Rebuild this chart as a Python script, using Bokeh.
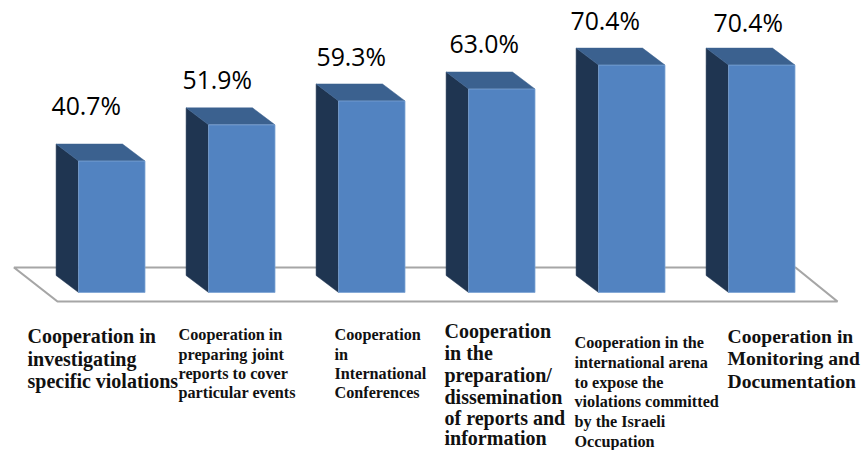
from bokeh.plotting import figure
from bokeh.embed import file_html
from bokeh.resources import INLINE
from bokeh.core.properties import value

# ---- data
categories = ["Investigating violations", "Joint reports", "International conferences",
              "Reports and information", "International arena", "Monitoring and documentation"]
values = [40.7, 51.9, 59.3, 63.0, 70.4, 70.4]

labels = [
    ["Cooperation in", "investigating", "specific violations"],
    ["Cooperation in", "preparing joint", "reports to cover", "particular events"],
    ["Cooperation", "in", "International", "Conferences"],
    ["Cooperation", "in the", "preparation/", "dissemination", "of reports and", "information"],
    ["Cooperation in the", "international arena", "to expose the", "violations committed", "by the Israeli", "Occupation"],
    ["Cooperation in", "Monitoring and", "Documentation"],
]

# ---- layout (pixels on the 862x450 page)
W, H = 862, 450
X0, STEP = 111.3, 130.0      # centre of first bar, spacing
Y0, PX_PER = 292.0, 3.23     # baseline, pixels per percent
BAR_W = 66.4 / STEP
DX, DY = -22.5 / STEP, 17 / PX_PER   # depth offset
BASE_FIX = 0.37              # baseline correction, fraction of font size

def dx(px):
    return (px - X0) / STEP

def dy(py):
    return (Y0 - py) / PX_PER

p = figure(width=W, height=H, output_backend="svg", toolbar_location=None,
           x_range=(dx(0), dx(W)), y_range=(dy(H), dy(0)),
           min_border=0, min_border_left=0, min_border_right=0, min_border_top=0, min_border_bottom=0,
           outline_line_color=None, background_fill_color="white", border_fill_color="white")
p.axis.visible = False
p.grid.visible = False
p.styles = {"position": "absolute", "left": "0", "top": "0"}

# floor
p.patch([dx(13.5), dx(795), dx(837), dx(57)], [dy(267), dy(267), dy(301), dy(301)],
        fill_color="white", line_color="#a6a6a6", line_width=2.2)

FRONT, TOP, SIDE = "#5283c1", "#3b618f", "#1f3551"
for i, v in enumerate(values):
    l, r = i - BAR_W / 2, i + BAR_W / 2
    p.patch([l, l + DX, l + DX, l], [0, DY, v + DY, v], fill_color=SIDE, line_color=SIDE, line_width=0.5)
    p.patch([l, l + DX, r + DX, r], [v, v + DY, v + DY, v], fill_color=TOP, line_color=TOP, line_width=0.5)
    p.vbar(x=i, width=BAR_W, bottom=0, top=v, fill_color=FRONT, line_color="#7ea4d4", line_width=0.8)

# value labels
pct_x = [51, 182, 316, 449, 570, 713]
pct_base = [114, 88, 65, 52, 29, 31]
PCT_SIZE = 24.8
p.text([dx(x) for x in pct_x], [dy(y - BASE_FIX * PCT_SIZE) for y in pct_base],
       text=[f"{v:.1f}%" for v in values],
       text_font=value("Open Sans"), text_font_size=f"{PCT_SIZE}px", text_color="#000000",
       text_baseline="alphabetic", text_align="left")

# category labels
lab_x = [27, 178, 334, 444, 574, 727]
lab_size = [20, 16.2, 16.2, 20, 16.2, 19.6]
lab_base = [
    [343, 366, 388],
    [340, 360, 379, 398],
    [340, 360, 379, 398],
    [338, 360, 382, 404, 425, 445],
    [348, 368, 388, 407, 427, 447],
    [343, 365, 388],
]
for lines, x, size, bases in zip(labels, lab_x, lab_size, lab_base):
    p.text([dx(x)] * len(lines), [dy(b - BASE_FIX * size) for b in bases], text=lines,
           text_font=value("Liberation Serif"), text_font_style="bold", text_font_size=f"{size}px",
           text_color="#111111", text_baseline="alphabetic", text_align="left")

open("out.html", "w").write(file_html(p, INLINE))
